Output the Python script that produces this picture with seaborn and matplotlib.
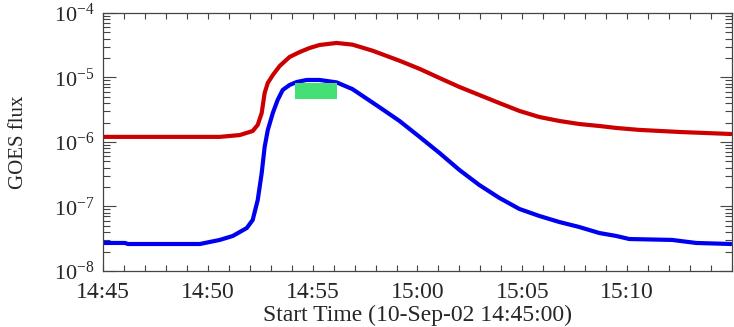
import matplotlib
matplotlib.use("Agg")
import matplotlib.pyplot as plt
from matplotlib.patches import Rectangle
from matplotlib.ticker import FixedLocator, MultipleLocator, LogLocator, NullFormatter
import numpy as np
import pandas as pd
import seaborn as sns

# GOES X-ray flux, minutes after 14:45:00 UT on 10-Sep-2002
long_time = [0.0, 2.24, 4.62, 5.57, 6.52, 7.14, 7.38, 7.57, 7.71, 7.86, 8.10, 8.43,
             8.90, 9.38, 9.86, 10.33, 11.14, 11.90, 12.86, 14.14, 15.10, 16.05,
             17.00, 17.95, 18.90, 19.86, 20.81, 21.76, 22.71, 23.67, 24.48, 25.57,
             27.48, 29.95]
long_flux = [1.20e-6, 1.20e-6, 1.20e-6, 1.20e-6, 1.28e-6, 1.48e-6, 1.84e-6, 2.82e-6,
             5.75e-6, 8.22e-6, 1.09e-5, 1.51e-5, 2.08e-5, 2.48e-5, 2.87e-5, 3.19e-5,
             3.43e-5, 3.23e-5, 2.60e-5, 1.82e-5, 1.36e-5, 9.82e-6, 7.13e-6, 5.35e-6,
             4.02e-6, 3.03e-6, 2.44e-6, 2.12e-6, 1.90e-6, 1.77e-6, 1.65e-6, 1.54e-6,
             1.43e-6, 1.33e-6]

short_time = [0.0, 1.05, 1.19, 4.62, 5.10, 5.57, 6.19, 6.86, 7.14, 7.38, 7.57, 7.71,
              7.86, 8.10, 8.33, 8.57, 8.90, 9.24, 9.71, 10.33, 11.14, 11.90, 13.19,
              14.14, 15.10, 16.05, 17.00, 17.95, 18.90, 19.86, 20.81, 21.76, 22.71,
              23.67, 24.48, 25.10, 27.14, 28.29, 29.95]
short_flux = [2.72e-8, 2.72e-8, 2.62e-8, 2.62e-8, 2.82e-8, 3.03e-8, 3.49e-8, 4.64e-8,
              6.18e-8, 1.26e-7, 3.31e-7, 8.36e-7, 1.53e-6, 2.82e-6, 4.48e-6, 6.40e-6,
              7.65e-6, 8.51e-6, 9.15e-6, 9.15e-6, 8.40e-6, 6.60e-6, 3.45e-6, 2.12e-6,
              1.20e-6, 6.75e-7, 3.68e-7, 2.15e-7, 1.36e-7, 9.15e-8, 7.13e-8, 5.75e-8,
              4.81e-8, 3.88e-8, 3.49e-8, 3.13e-8, 3.03e-8, 2.72e-8, 2.62e-8]

# highlighted interval near the short-channel peak
band_t0, band_t1 = 9.14, 11.14
band_lo, band_hi = 4.65e-6, 8.2e-6

x_ticks = [0, 5, 10, 15, 20, 25]
x_tick_labels = ["14:45", "14:50", "14:55", "15:00", "15:05", "15:10"]
y_ticks = [1e-8, 1e-7, 1e-6, 1e-5, 1e-4]
y_tick_labels = [r"$\mathregular{10^{-8}}$", r"$\mathregular{10^{-7}}$",
                 r"$\mathregular{10^{-6}}$", r"$\mathregular{10^{-5}}$",
                 r"$\mathregular{10^{-4}}$"]

df = pd.concat([
    pd.DataFrame({"t": long_time, "flux": long_flux, "band": "1-8 A"}),
    pd.DataFrame({"t": short_time, "flux": short_flux, "band": "0.5-4 A"}),
], ignore_index=True)

sns.set_theme(style="ticks")
plt.rcParams["font.family"] = ["Liberation Serif", "DejaVu Serif"]
plt.rcParams["mathtext.fontset"] = "stix"

fig = plt.figure(figsize=(7.34, 3.27), dpi=100)
ax = fig.add_axes([0.1403, 0.1713, 0.857, 0.789])

sns.lineplot(data=df, x="t", y="flux", hue="band", estimator=None, sort=False,
             palette={"1-8 A": "#cc0000", "0.5-4 A": "#0000f0"},
             linewidth=3.0, legend=False, ax=ax)

ax.add_patch(Rectangle((band_t0, band_lo), band_t1 - band_t0, band_hi - band_lo,
                       facecolor="#44e075", edgecolor="none", zorder=3))

ax.set_yscale("log")
ax.set_xlim(0, 30)
ax.set_ylim(1e-8, 1e-4)

ax.xaxis.set_major_locator(FixedLocator(x_ticks))
ax.set_xticklabels(x_tick_labels)
ax.xaxis.set_minor_locator(MultipleLocator(1))
ax.yaxis.set_major_locator(FixedLocator(y_ticks))
ax.set_yticklabels(y_tick_labels)
ax.yaxis.set_minor_locator(LogLocator(base=10, subs=np.arange(2, 10)))
ax.yaxis.set_minor_formatter(NullFormatter())

ax.tick_params(which="both", direction="in", top=True, right=True,
               color="#444444", width=0.8)
ax.tick_params(axis="x", which="both", length=4, labelsize=17, pad=8)
ax.tick_params(axis="y", which="major", length=9, labelsize=16, pad=6)
ax.tick_params(axis="y", which="minor", length=5)

for sp in ax.spines.values():
    sp.set_color("#444444")
    sp.set_linewidth(0.9)

ax.set_xlabel("Start Time (10-Sep-02 14:45:00)", fontsize=17, labelpad=1)
ax.set_ylabel("GOES flux", fontsize=15, labelpad=19)

fig.savefig("out.png", dpi=100, facecolor="white")
